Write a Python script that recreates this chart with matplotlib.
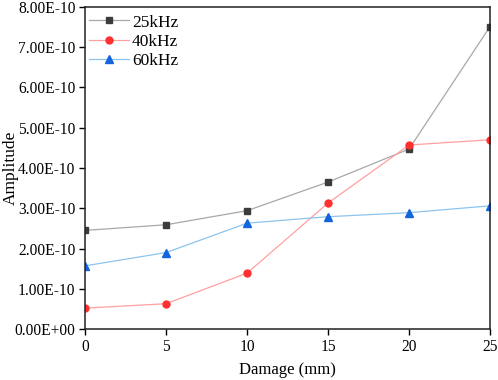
import matplotlib
matplotlib.use('Agg')
import matplotlib.pyplot as plt
from matplotlib.ticker import FuncFormatter

plt.rcParams['font.family'] = ['Liberation Serif', 'DejaVu Serif']

damage = [0, 5, 10, 15, 20, 25]
amp_25k = [2.45e-10, 2.59e-10, 2.94e-10, 3.65e-10, 4.47e-10, 7.51e-10]
amp_40k = [0.52e-10, 0.63e-10, 1.39e-10, 3.13e-10, 4.57e-10, 4.70e-10]
amp_60k = [1.57e-10, 1.90e-10, 2.63e-10, 2.79e-10, 2.89e-10, 3.06e-10]

fig = plt.figure(figsize=(4.98, 3.8), dpi=100)
ax = fig.add_axes([0.171, 0.134, 0.813, 0.848])

ax.plot(damage, amp_25k, color='#a8a8a8', lw=0.9, marker='s', ms=4.2,
        mfc='#3c3c3c', mec='#3c3c3c', label='25kHz')
ax.plot(damage, amp_40k, color='#ffa0a0', lw=0.9, marker='o', ms=5,
        mfc='#ff3030', mec='#ff3030', label='40kHz')
ax.plot(damage, amp_60k, color='#8cc4f0', lw=0.9, marker='^', ms=5.2,
        mfc='#1464dc', mec='#1464dc', label='60kHz')

ax.set_xlim(0, 25)
ax.set_ylim(0, 8e-10)
ax.set_xticks(damage)
ax.set_yticks([i * 1e-10 for i in range(9)])
ax.yaxis.set_major_formatter(FuncFormatter(lambda v, p: '%.2E' % v))
ax.tick_params(direction='out', length=4.5, width=1, labelsize=11.2, pad=2.5,
               top=False, right=False)
for s in ax.spines.values():
    s.set_linewidth(1.1)
    s.set_color('#222222')

ax.set_xlabel('Damage (mm)', fontsize=12, labelpad=5)
ax.set_ylabel('Amplitude', fontsize=12.5)
ax.yaxis.set_label_coords(-0.165, 0.5)

ax.legend(loc='upper left', bbox_to_anchor=(0.0, 0.99), frameon=False,
          fontsize=12.5, handlelength=2.3, borderaxespad=0.15, borderpad=0.1,
          labelspacing=0.18, handletextpad=0.15)

fig.savefig('out.png', dpi=100)
